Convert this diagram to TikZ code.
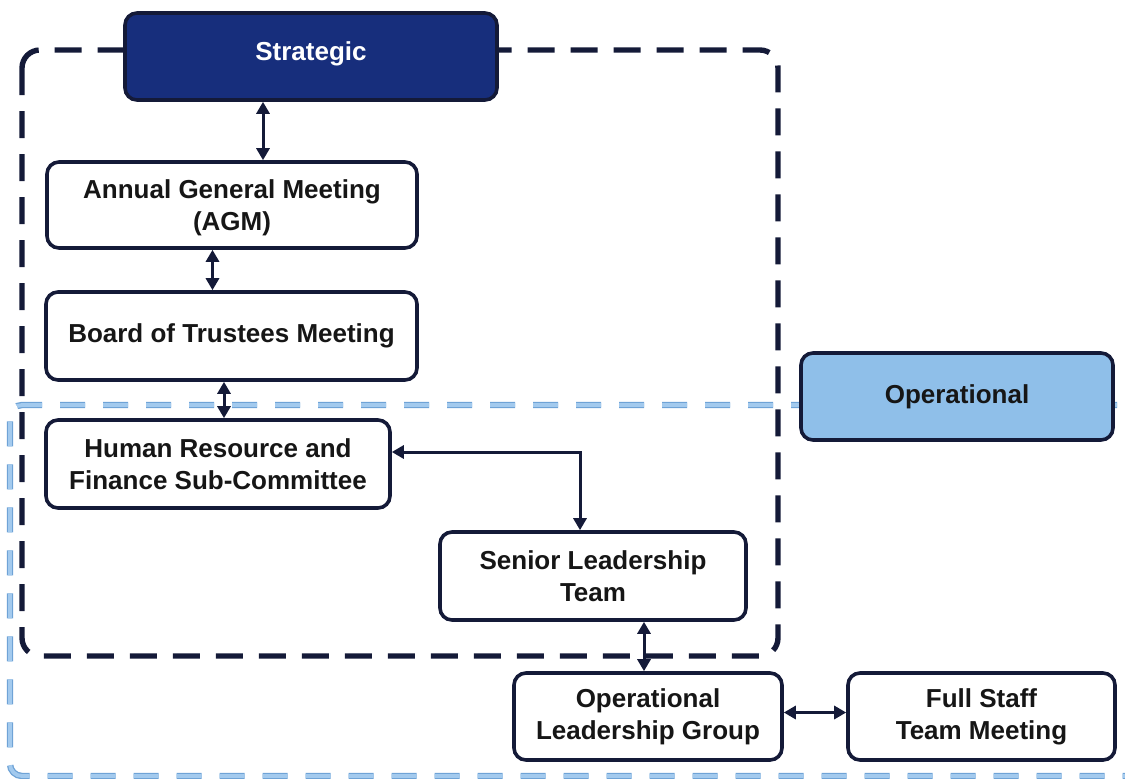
\documentclass[tikz,border=0pt]{standalone}
\usepackage{fontspec}
\setmainfont{Liberation Sans}
\usetikzlibrary{arrows.meta}
\definecolor{navy}{HTML}{141A38}
\definecolor{stratfill}{HTML}{172E7C}
\definecolor{opfill}{HTML}{8FBFE9}
\definecolor{lbout}{HTML}{6FA3D6}
\definecolor{lbin}{HTML}{A3CAEE}
\definecolor{txt}{HTML}{161616}
\tikzset{
  box/.style={draw=navy, line width=1.8pt, rounded corners=6pt, fill=white,
    align=center, font=\bfseries\fontsize{13}{16}\selectfont, text=txt, inner sep=0pt},
  arr/.style={draw=navy, line width=1.5pt, {Triangle[length=6pt,width=6.5pt]}-{Triangle[length=6pt,width=6.5pt]}},
  darkframe/.style={draw=navy, line width=2.7pt, dash pattern=on 13.5pt off 8pt, rounded corners=9pt},
  lbframeout/.style={draw=lbout, line width=3.2pt, dash pattern=on 12.5pt off 9pt, rounded corners=6pt},
  lbframein/.style={draw=lbin, line width=1.9pt, dash pattern=on 12.5pt off 9pt, rounded corners=6pt}
}
\begin{document}
\begin{tikzpicture}[x=0.5pt,y=-0.5pt]
\useasboundingbox (0,0) rectangle (1125,778);
% light blue operational frame
\coordinate (lbA) at (1160,405);
\coordinate (lbB) at (10,405);
\coordinate (lbC) at (10,776);
\coordinate (lbD) at (1160,776);
\draw[lbframeout] (lbA) -- (lbB) -- (lbC) -- (lbD);
\draw[lbframein] (lbA) -- (lbB) -- (lbC) -- (lbD);
% dark strategic frame
\coordinate (dfA) at (22,50);
\coordinate (dfB) at (778,656);
\draw[darkframe] (dfA) rectangle (dfB);
% boxes
\node[box, fill=stratfill, text=white, minimum width=186pt, minimum height=43.5pt] (strat) at (311,56.5) {\raisebox{1.5pt}[\height][\depth]{Strategic}};
\node[box, fill=opfill, text=txt, minimum width=156pt, minimum height=43.5pt] (op) at (957,396.5) {Operational};
\node[box, minimum width=185pt, minimum height=43pt] (agm) at (232,205) {\raisebox{-1.5pt}[\height][\depth]{\begin{tabular}{@{}c@{}}Annual General Meeting\\(AGM)\end{tabular}}};
\node[box, minimum width=185.5pt, minimum height=44pt] (board) at (231.5,336) {Board of Trustees Meeting};
\node[box, minimum width=172pt, minimum height=44pt] (hr) at (218,464) {Human Resource and\\Finance Sub-Committee};
\node[box, minimum width=153pt, minimum height=44pt] (slt) at (593,576) {Senior Leadership\\Team};
\node[box, minimum width=134pt, minimum height=43.5pt] (olg) at (648,716.5) {Operational\\Leadership Group};
\node[box, minimum width=133.5pt, minimum height=43.5pt] (fst) at (981.5,716.5) {Full Staff\\Team Meeting};
% connectors
\draw[arr] ([xshift=15.5pt]agm.north |- strat.south) -- ([xshift=15.5pt]agm.north);
\draw[arr] ([xshift=-9.5pt]board.north |- agm.south) -- ([xshift=-9.5pt]board.north);
\draw[arr] ([xshift=3pt]hr.north |- board.south) -- ([xshift=3pt]hr.north);
\draw[arr] ([yshift=6pt]hr.east) -| ([xshift=-6.5pt]slt.north);
\draw[arr] ([xshift=-2pt]olg.north |- slt.south) -- ([xshift=-2pt]olg.north);
\draw[arr] ([yshift=2pt]olg.east) -- ([yshift=2pt]olg.east -| fst.west);
\end{tikzpicture}
\end{document}
